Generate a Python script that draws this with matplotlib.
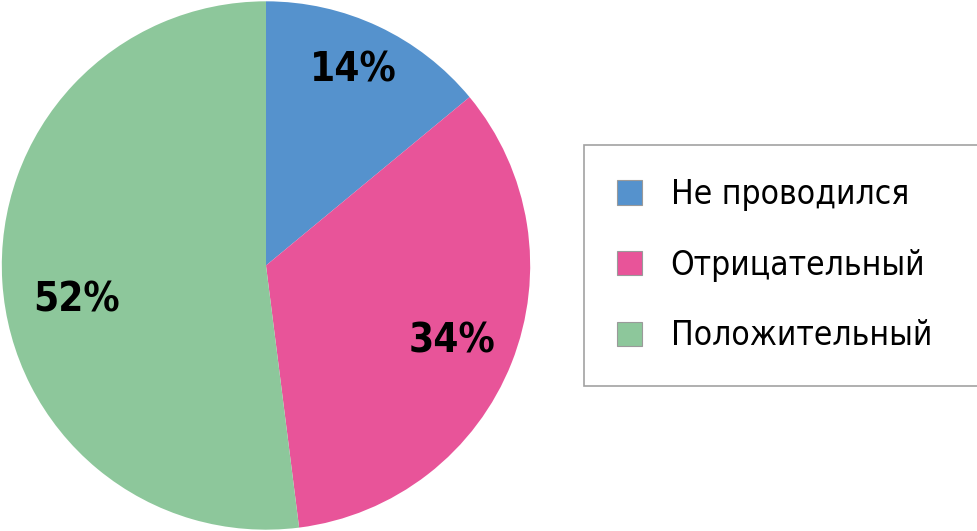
import matplotlib
matplotlib.use("Agg")
import numpy as np
import matplotlib.pyplot as plt
from matplotlib.patches import Patch

labels = ["Не проводился", "Отрицательный", "Положительный"]
values = [14, 34, 52]
colors = ["#5592CD", "#E85499", "#8DC79B"]

plt.rcParams["font.family"] = ["DejaVu Sans"]
plt.rcParams["font.stretch"] = "condensed"

fig = plt.figure(figsize=(9.78, 5.31), dpi=100)
ax = fig.add_axes([0, 0, 532 / 978, 1])

wedges, texts, autotexts = ax.pie(
    values, colors=colors, startangle=90, counterclock=False,
    autopct="%d%%", pctdistance=0.78, radius=1,
    textprops={"fontsize": 29, "fontweight": "bold", "color": "black",
               "fontstretch": "condensed"},
)
# excel-like "best fit" placement of the percent labels (radius, angle shift)
label_r = [0.81, 0.76, 0.73]
label_shift = [-1.0, 0.6, -7.0]
for w, t, r, s in zip(wedges, autotexts, label_r, label_shift):
    ang = np.deg2rad((w.theta1 + w.theta2) / 2 - s)
    t.set_position((r * np.cos(ang), r * np.sin(ang)))

ax.set_xlim(-1.005, 1.005)
ax.set_ylim(-1.005, 1.005)
ax.set_aspect("equal")

handles = [Patch(facecolor=c, edgecolor="#9a9a9a", linewidth=0.8) for c in colors]
leg = fig.legend(handles, labels, loc="upper left",
                 bbox_to_anchor=(584 / 978, 1 - 150 / 531, 1 - 584 / 978, 0.01),
                 mode="expand", frameon=True, fancybox=False,
                 prop={"size": 24, "stretch": "condensed"},
                 handlelength=0.75, handleheight=0.75, handletextpad=0.85,
                 borderpad=1.0, labelspacing=1.13, borderaxespad=0)
leg.get_frame().set_edgecolor("#8a8a8a")
leg.get_frame().set_linewidth(1.2)

fig.savefig("out.png", dpi=100)
